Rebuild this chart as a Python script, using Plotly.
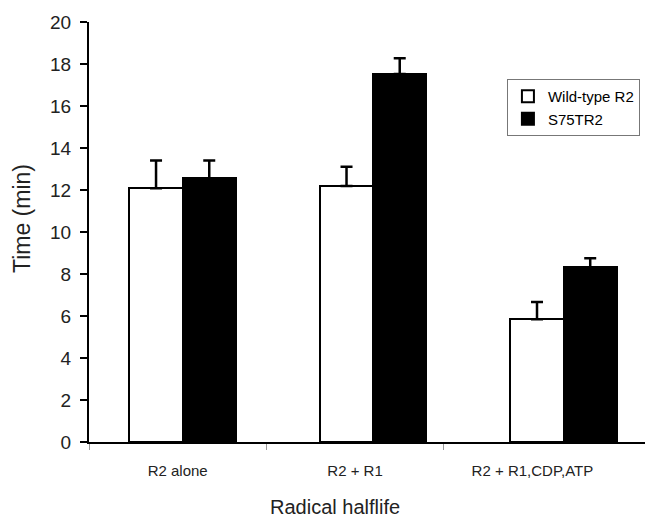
import plotly.graph_objects as go

categories = ["R2 alone", "R2 + R1", "R2 + R1,CDP,ATP"]
series_names = ["Wild-type R2", "S75TR2"]
wt_values = [12.08, 12.19, 5.84]
wt_errors = [1.32, 0.92, 0.83]
mut_values = [12.56, 17.52, 8.32]
mut_errors = [0.84, 0.75, 0.43]
y_ticks = list(range(0, 21, 2))

# layout constants (x axis in category units; boundaries at integers)
group_centers = [0.528 + 1.074 * i for i in range(len(categories))]
label_pos = [i + 0.5 for i in range(len(categories))]
bar_w = 0.30

fig = go.Figure()
fig.add_trace(go.Bar(
    name=series_names[0], x=group_centers, y=wt_values,
    width=bar_w, offset=-bar_w,
    marker=dict(color="white", line=dict(color="black", width=2)),
    error_y=dict(type="data", array=wt_errors, symmetric=False, arrayminus=[0]*3,
                 color="black", thickness=2.5, width=6),
))
fig.add_trace(go.Bar(
    name=series_names[1], x=group_centers, y=mut_values,
    width=bar_w, offset=0,
    marker=dict(color="black", line=dict(color="black", width=2)),
    error_y=dict(type="data", array=mut_errors, symmetric=False, arrayminus=[0]*3,
                 color="black", thickness=2.5, width=6),
))

font_family = "Liberation Sans, Arial, sans-serif"
fig.update_layout(
    width=645, height=513,
    margin=dict(l=81, r=0, t=14, b=79),
    plot_bgcolor="white", paper_bgcolor="white",
    showlegend=True,
    legend=dict(x=0.741, y=0.864, xanchor="left", yanchor="top",
                bordercolor="#777777", borderwidth=1,
                font=dict(family=font_family, size=15, color="black"),
                itemsizing="constant", tracegroupgap=0, bgcolor="white",
                itemwidth=30),
    font=dict(family=font_family, color="black"),
    bargap=0,
    xaxis=dict(
        range=[0, 3.18], showgrid=False, zeroline=False,
        showline=True, linecolor="black", linewidth=2,
        tickmode="array", tickvals=label_pos, ticktext=categories,
        ticks="", tickfont=dict(size=15, color="#222222"),
        ticklabelstandoff=14,
        minor=dict(tickmode="array", tickvals=[0, 1, 2], ticks="outside",
                   ticklen=6, tickcolor="#999999", tickwidth=1),
    ),
    yaxis=dict(
        range=[0, 20], showgrid=False, zeroline=False,
        showline=True, linecolor="black", linewidth=2,
        tickmode="array", tickvals=y_ticks,
        ticks="outside", ticklen=7, tickcolor="black", tickwidth=1.5,
        tickfont=dict(size=19, color="#222222"),
        ticklabelstandoff=5,
    ),
    annotations=[
        dict(text="Radical halflife", xref="paper", yref="paper",
             x=0.436, y=-0.155, xanchor="center", yanchor="middle",
             showarrow=False, font=dict(size=20, color="#222222")),
        dict(text="Time (min)", xref="paper", yref="paper",
             x=-0.119, y=0.533, xanchor="center", yanchor="middle",
             textangle=-90, showarrow=False,
             font=dict(size=23, color="#222222")),
    ],
)

fig.write_html("out.html")
